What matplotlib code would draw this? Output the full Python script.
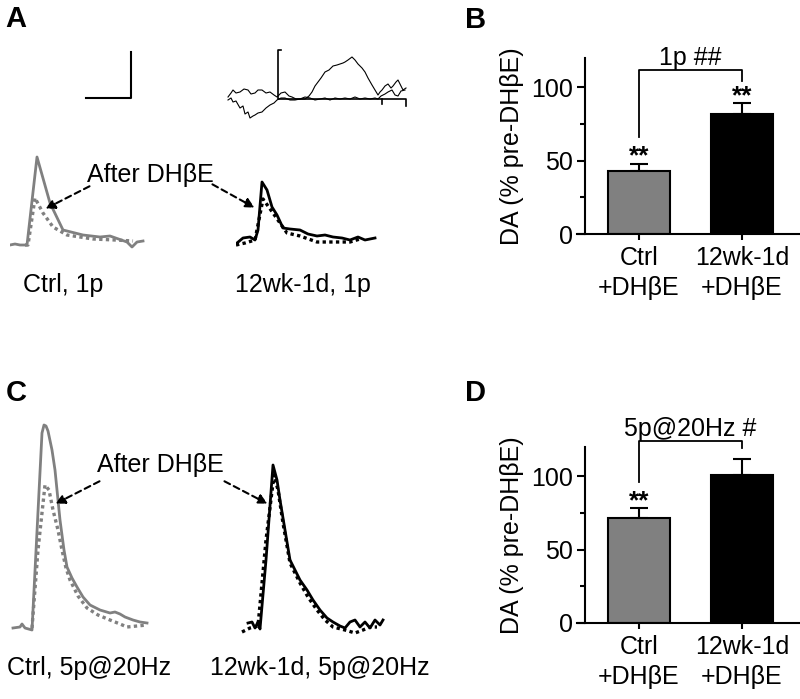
import numpy as np
import matplotlib
matplotlib.use('Agg')
import matplotlib.pyplot as plt

plt.rcParams['font.family'] = ['Liberation Sans', 'DejaVu Sans']

W, H = 800, 699
GRAY = '#808080'
FS = 18

# ---- Panel A traces (time a.u., signal a.u., baseline 0) ----
a_ctrl_t = [0, 5, 10, 17, 27, 40, 53, 65, 73, 90, 100, 117, 122, 127, 133]
a_ctrl_v = [0, 1, 0, 0, 88, 42, 15, 12, 10, 8, 9, 3, -2, 3, 4]
a_ctrl_dh_t = [15, 18, 25, 33, 43, 57, 83, 105, 123]
a_ctrl_dh_v = [0, 0, 47, 32, 18, 10, 6, 5, 4]

a_wk_t = [1, 7, 14, 19, 22, 26, 31, 36, 41, 47, 54, 64, 72, 81, 89, 97, 106, 114, 122, 129, 139]
a_wk_v = [0, 5, 6, 3, 13, 61, 53, 36, 28, 15, 14, 13, 9, 7, 8, 6, 5, 3, 6, 3, 5]
a_wk_dh_t = [0, 9, 19, 27, 37, 51, 64, 81, 97, 114, 124]
a_wk_dh_v = [-2, 0, 3, 44, 30, 10, 7, 1, 1, 1, 4]

# inset traces (top right of A)
ins1_t = [3, 6, 8, 11, 15, 18, 20, 23, 25, 28, 30, 33, 37, 41, 45, 49, 52, 56, 60, 65, 70, 75, 80, 84,
          87, 90, 93, 96, 100, 104, 108, 112, 115, 118, 120, 123, 127, 130, 133, 137, 140, 143, 147,
          150, 153, 155, 157, 160, 163, 166, 168, 171, 173, 176, 178, 181]
ins1_v = [-1, 1, -3, -2, -9, -7, -15, -13, -19, -17, -16, -14, -13, -9, -6, -4, -1, 1, 1, -1, -1, 0, 0, 3,
          7, 13, 17, 21, 27, 29, 33, 34, 35, 36, 37, 39, 42, 39, 35, 31, 27, 21, 14,
          9, 4, 7, 9, 13, 15, 11, 13, 17, 19, 13, 9, 11]
ins2_t = [3, 6, 8, 11, 15, 19, 23, 26, 30, 33, 37, 41, 45, 49, 52, 56, 60, 64, 67, 71, 75, 80, 85, 90,
          95, 100, 105, 110, 115, 120, 125, 130, 135, 140, 145, 150, 153, 156, 160, 163, 167, 170, 173,
          176, 180]
ins2_v = [2, 6, 9, 6, 7, 10, 9, 5, 6, 9, 9, 6, 7, 4, 2, 6, 7, 3, 2, 0, 0, 2, 1, -1,
          0, 1, -1, 1, 0, 1, 0, 2, 0, 1, 0, 1, 0, 3, 5, 7, 9, 4, 3,
          8, 9]
stim_t = [56, 53, 53, 181, 181]
stim_v = [49, 49, 0, 0, -7]
tick_t = [157, 157]
tick_v = [0, -5]

scale_t = [6, 51, 51]
scale_v = [7, 7, 53]

# ---- Panel C traces ----
c_ctrl_t = [3, 10, 12, 15, 22, 32, 34, 36, 38, 42, 45, 50, 54, 57, 62, 67, 73, 80, 90, 100, 105, 110, 115,
            123, 130, 137]
c_ctrl_v = [0, 1, 4, 0, -2, 195, 203, 202, 197, 178, 158, 108, 78, 61, 50, 41, 31, 23, 18, 15, 16, 14, 11,
            8, 6, 5]
c_ctrl_dh_t = [22, 28, 35, 39, 43, 48, 52, 56, 60, 68, 77, 88, 100, 110, 117, 127, 137]
c_ctrl_dh_v = [0, 78, 143, 138, 118, 98, 78, 60, 48, 32, 20, 13, 8, 4, 1, 2, 3]

c_wk_t = [8, 12, 15, 18, 20, 26, 33, 37, 40, 45, 50, 55, 60, 67, 73, 80, 87, 93, 100, 105, 110, 115,
          120, 125, 130, 135, 140, 143]
c_wk_v = [5, 6, 0, 6, -1, 68, 163, 148, 128, 98, 68, 58, 48, 38, 28, 18, 10, 6, 2, 0, 6, 8,
          1, 6, 0, 8, 3, 8]
c_wk_dh_t = [2, 10, 18, 26, 34, 38, 43, 50, 60, 68, 77, 85, 93, 105, 115, 123, 130, 137]
c_wk_dh_v = [-4, 0, 2, 88, 153, 138, 105, 65, 45, 31, 18, 8, 1, -2, -5, -2, 1, 1]

# ---- Bar data ----
groups = ['Ctrl\n+DHβE', '12wk-1d\n+DHβE']
b_vals = [43, 81.5]
b_err = [5, 7.5]
d_vals = [71.5, 101]
d_err = [6.7, 10.5]
bar_colors = [GRAY, 'black']

fig = plt.figure(figsize=(8, 6.99), dpi=100)


def px_axes(left, top, width, height):
    return fig.add_axes([left / W, 1 - (top + height) / H, width / W, height / H])


def trace_axes(left, top, width, height, base):
    # 1 data unit per pixel, baseline 'base' pixels above the bottom
    ax = px_axes(left, top, width, height)
    ax.set_xlim(0, width)
    ax.set_ylim(-base, height - base)
    ax.axis('off')
    return ax


dotted = (0, (1, 1))
arrow_kw = dict(arrowstyle='-|>', ls=(0, (3, 2)), lw=1.5, color='black', mutation_scale=14)

# Panel A
ax = trace_axes(10, 150, 140, 105, 10)
ax.plot(a_ctrl_t, a_ctrl_v, color=GRAY, lw=2.0)
ax.plot(a_ctrl_dh_t, a_ctrl_dh_v, color=GRAY, lw=2.4, ls=dotted)
ax.annotate('', xy=(33, 35), xycoords='data', xytext=(92 / W, 1 - 185 / H),
            textcoords='figure fraction', arrowprops=arrow_kw)

ax = trace_axes(236, 150, 145, 105, 12)
ax.plot(a_wk_t, a_wk_v, color='black', lw=2.0)
ax.plot(a_wk_dh_t, a_wk_dh_v, color='black', lw=2.4, ls=dotted)
ax.annotate('', xy=(21, 34), xycoords='data', xytext=(210 / W, 1 - 183 / H),
            textcoords='figure fraction', arrowprops=arrow_kw)

ax = trace_axes(225, 45, 185, 80, 26)
ax.plot(ins1_t, ins1_v, color='black', lw=0.8)
ax.plot(ins2_t, ins2_v, color='black', lw=0.8)
ax.plot(stim_t, stim_v, color='black', lw=1.2)
ax.plot(tick_t, tick_v, color='black', lw=1.2)

ax = trace_axes(80, 45, 60, 60, 0)
ax.plot(scale_t, scale_v, color='black', lw=1.5)

fig.text(150 / W, 1 - 175 / H, 'After DHβE', fontsize=FS, ha='center', va='center')
fig.text(23 / W, 1 - 285 / H, 'Ctrl, 1p', fontsize=FS, ha='left', va='center')
fig.text(235 / W, 1 - 285 / H, '12wk-1d, 1p', fontsize=FS, ha='left', va='center')

# Panel C
ax = trace_axes(10, 415, 145, 225, 12)
ax.plot(c_ctrl_t, c_ctrl_v, color=GRAY, lw=2.0)
ax.plot(c_ctrl_dh_t, c_ctrl_dh_v, color=GRAY, lw=2.4, ls=dotted)
ax.annotate('', xy=(43, 123), xycoords='data', xytext=(102 / W, 1 - 480 / H),
            textcoords='figure fraction', arrowprops=arrow_kw)

ax = trace_axes(240, 415, 150, 225, 12)
ax.plot(c_wk_t, c_wk_v, color='black', lw=2.0)
ax.plot(c_wk_dh_t, c_wk_dh_v, color='black', lw=2.4, ls=dotted)
ax.annotate('', xy=(30, 123), xycoords='data', xytext=(222 / W, 1 - 480 / H),
            textcoords='figure fraction', arrowprops=arrow_kw)

fig.text(160 / W, 1 - 465 / H, 'After DHβE', fontsize=FS, ha='center', va='center')
fig.text(7 / W, 1 - 668 / H, 'Ctrl, 5p@20Hz', fontsize=FS, ha='left', va='center')
fig.text(210 / W, 1 - 668 / H, '12wk-1d, 5p@20Hz', fontsize=FS, ha='left', va='center')


# Bar panels
def bar_panel(top, vals, errs, br_left, br_right, br_top, br_text, stars):
    ax = px_axes(577, top, 223, 176)
    x = np.arange(len(vals))
    ax.bar(x, vals, width=0.61, color=bar_colors, edgecolor='black', linewidth=1.5, zorder=2)
    ax.errorbar(x, vals, yerr=[[0] * len(vals), errs], fmt='none', ecolor='black',
                elinewidth=1.5, capsize=6.5, capthick=1.5, zorder=1)
    ax.set_xlim(-0.602, 1.563)
    ax.set_ylim(0, 120)
    ax.spines['left'].set_position(('data', -0.524))
    for s in ['top', 'right']:
        ax.spines[s].set_visible(False)
    for s in ['left', 'bottom']:
        ax.spines[s].set_linewidth(1.5)
    ax.set_yticks([0, 50, 100])
    ax.set_yticks([25, 75], minor=True)
    ax.set_xticks(x)
    ax.set_xticklabels(groups, fontsize=FS, linespacing=1.35)
    ax.tick_params(axis='y', which='major', length=5.8, width=1.5, labelsize=FS, pad=3)
    ax.tick_params(axis='y', which='minor', length=3.6, width=1.5)
    ax.tick_params(axis='x', length=4.5, width=1.5, pad=4)
    ax.set_ylabel('DA (% pre-DHβE)', fontsize=FS, labelpad=5)
    ax.plot([0, 0, 1, 1], [br_left, br_top, br_top, br_right], color='black', lw=1.3, clip_on=False)
    ax.text(0.5, br_top + 3.5, br_text, fontsize=FS, ha='center', va='baseline')
    for i in stars:
        ax.text(x[i], vals[i] + errs[i], '**', fontsize=19, fontweight='bold',
                ha='center', va='baseline')
    return ax


bar_panel(58, b_vals, b_err, 66, 104, 112, '1p ##', [0, 1])
bar_panel(447, d_vals, d_err, 96, 119, 124, '5p@20Hz #', [0])

# Panel letters
for lbl, xp, yp in [('A', 5, 19), ('B', 465, 20), ('C', 6, 393), ('D', 465, 393)]:
    fig.text(xp / W, 1 - yp / H, lbl, fontsize=21, fontweight='bold', ha='left', va='center')

fig.savefig('out.png', dpi=100)
